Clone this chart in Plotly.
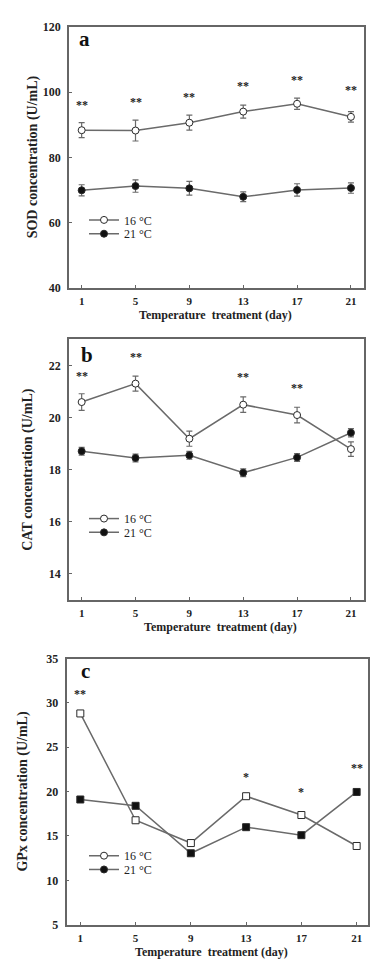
import plotly.graph_objects as go

days = [1, 5, 9, 13, 17, 21]
tick_labels = ["1", "5", "9", "13", "17", "21"]

# Panel a: SOD
sod_16 = [88.3, 88.2, 90.6, 94.0, 96.4, 92.4]
sod_16_err = [2.3, 3.2, 2.3, 2.0, 1.7, 1.6]
sod_21 = [69.9, 71.2, 70.5, 67.9, 70.0, 70.6]
sod_21_err = [1.7, 1.9, 2.1, 1.5, 1.9, 1.6]
sod_sig = ["**", "**", "**", "**", "**", "**"]
sod_sig_y = [96.0, 97.0, 98.6, 101.8, 103.8, 100.6]

# Panel b: CAT
cat_16 = [20.59, 21.30, 19.18, 20.49, 20.09, 18.78]
cat_16_err = [0.32, 0.29, 0.29, 0.30, 0.30, 0.28]
cat_21 = [18.70, 18.44, 18.54, 17.87, 18.46, 19.41]
cat_21_err = [0.15, 0.15, 0.15, 0.15, 0.15, 0.16]
cat_sig_days = [1, 5, 13, 17]
cat_sig = ["**", "**", "**", "**"]
cat_sig_y = [21.58, 22.34, 21.54, 21.14]

# Panel c: GPx
gpx_16 = [28.81, 16.77, 14.20, 19.48, 17.36, 13.87]
gpx_16_err = [0.3, 0.25, 0.25, 0.3, 0.25, 0.25]
gpx_21 = [19.11, 18.40, 13.05, 15.99, 15.09, 19.96]
gpx_21_err = [0.25, 0.25, 0.25, 0.25, 0.25, 0.3]
gpx_sig_days = [1, 13, 17, 21]
gpx_sig = ["**", "*", "*", "**"]
gpx_sig_y = [30.96, 21.7, 19.9, 22.7]

series_names = ["16 °C", "21 °C"]

W, H = 385, 978
FONT = "Liberation Serif"
LINE_C = "#6a6a6a"
EDGE_C = "#2a2a2a"
AX_C = "#666666"
TXT_C = "#222222"

fig = go.Figure()

def px(x):
    return x / W

def py(y):
    return 1 - y / H

panels = [
    dict(ax="", x0=69, x1=364, top=20, bot=285, xr=[0.06, 21.97], yr=[40, 120], dtick=20,
         v16=sod_16, e16=sod_16_err, v21=sod_21, e21=sod_21_err,
         sdays=days, sig=sod_sig, sy=sod_sig_y, sym16="circle", sym21="circle",
         ytitle="SOD concentration (U/mL)", ytx=33, xtitle_y=312, xtitle_x=215,
         letter="a", lx=84, ly=32, leg_y=[216, 230], leg_x=84),
    dict(ax="2", x0=69, x1=364, top=337, bot=601.7, xr=[0.06, 21.97], yr=[12.97, 23.01], dtick=2,
         v16=cat_16, e16=cat_16_err, v21=cat_21, e21=cat_21_err,
         sdays=cat_sig_days, sig=cat_sig, sy=cat_sig_y, sym16="circle", sym21="circle",
         ytitle="CAT concentration (U/mL)", ytx=28, xtitle_y=629, xtitle_x=220,
         letter="b", lx=87, ly=353, leg_y=[519, 533], leg_x=84),
    dict(ax="3", x0=66.5, x1=367.7, top=661, bot=931, xr=[0.0, 21.8], yr=[5, 35], dtick=5,
         v16=gpx_16, e16=gpx_16_err, v21=gpx_21, e21=gpx_21_err,
         sdays=gpx_sig_days, sig=gpx_sig, sy=gpx_sig_y, sym16="square", sym21="square",
         ytitle="GPx concentration (U/mL)", ytx=23, xtitle_y=959, xtitle_x=212,
         letter="c", lx=85, ly=674, leg_y=[861, 875], leg_x=84),
]

layout = dict(
    width=W, height=H, margin=dict(l=0, r=0, t=0, b=0),
    paper_bgcolor="white", plot_bgcolor="white",
    font=dict(family=FONT, color=TXT_C),
    annotations=[],
)

leg_idx = 0
for p in panels:
    xa = "x" + p["ax"]
    ya = "y" + p["ax"]
    common_axis = dict(showline=True, mirror=True, linecolor=AX_C, linewidth=1.5,
                       ticks="inside", ticklen=3, tickcolor=AX_C, tickwidth=1.2,
                       showgrid=False, zeroline=False)
    layout["xaxis" + p["ax"]] = dict(domain=[px(p["x0"]), px(p["x1"])], range=p["xr"],
                                     anchor=ya, tickvals=days, ticktext=tick_labels,
                                     ticklabelstandoff=2,
                                     tickfont=dict(family=FONT, size=11, color=TXT_C, weight="bold"),
                                     **common_axis)
    layout["yaxis" + p["ax"]] = dict(domain=[py(p["bot"]), py(p["top"])], range=p["yr"],
                                     anchor=xa, dtick=p["dtick"], ticklabelstandoff=4,
                                     tickfont=dict(family=FONT, size=12, color=TXT_C, weight="bold"),
                                     **common_axis)

    use_square = p["sym16"] == "square"
    specs = [
        (p["v16"], p["e16"], "white", p["sym16"], series_names[0]),
        (p["v21"], p["e21"], "#111111", p["sym21"], series_names[1]),
    ]
    for k, (vals, errs, fill, sym, name) in enumerate(specs):
        leg_idx += 1
        lname = "legend" if leg_idx == 1 else "legend%d" % leg_idx
        fig.add_trace(go.Scatter(
            x=days, y=vals, xaxis=xa, yaxis=ya, name=name, mode="lines+markers",
            line=dict(color=LINE_C, width=1.5),
            marker=dict(symbol=sym, size=7, color=fill, line=dict(color=EDGE_C, width=1)),
            error_y=dict(type="data", array=errs, color=LINE_C, thickness=1.2, width=3),
            showlegend=not use_square, legend=lname,
        ))
        if use_square:
            fig.add_trace(go.Scatter(
                x=[None], y=[None], xaxis=xa, yaxis=ya, name=name, mode="lines+markers",
                line=dict(color=LINE_C, width=1.5),
                marker=dict(symbol="circle", size=7, color=fill, line=dict(color=EDGE_C, width=1)),
                showlegend=True, legend=lname,
            ))
        layout[lname] = dict(x=px(p["leg_x"]), y=py(p["leg_y"][k]), xanchor="left", yanchor="middle",
                             bgcolor="rgba(0,0,0,0)", borderwidth=0,
                             font=dict(family=FONT, size=12, color=TXT_C))

    for d, s, yv in zip(p["sdays"], p["sig"], p["sy"]):
        layout["annotations"].append(dict(
            text=s, x=d, y=yv, xref=xa, yref=ya, showarrow=False,
            font=dict(family=FONT, size=12, color="#222222", weight="bold"),
            xanchor="center", yanchor="middle"))

    layout["annotations"] += [
        dict(text=p["ytitle"], xref="paper", yref="paper", x=px(p["ytx"]),
             y=py((p["top"] + p["bot"]) / 2), textangle=-90, showarrow=False,
             font=dict(family=FONT, size=14, color=TXT_C, weight="bold"),
             xanchor="center", yanchor="middle"),
        dict(text="Temperature  treatment (day)", xref="paper", yref="paper",
             x=px(p["xtitle_x"]), y=py(p["xtitle_y"]), showarrow=False,
             font=dict(family=FONT, size=12, color=TXT_C, weight="bold"),
             xanchor="center", yanchor="middle"),
        dict(text=p["letter"], xref="paper", yref="paper", x=px(p["lx"]), y=py(p["ly"]),
             showarrow=False, font=dict(family=FONT, size=21, color="#111111", weight="bold"),
             xanchor="center", yanchor="middle"),
    ]

fig.update_layout(**layout)
fig.write_html("out.html", config={"displayModeBar": False},
               post_script="document.body.style.margin='0';document.body.style.padding='0';")
